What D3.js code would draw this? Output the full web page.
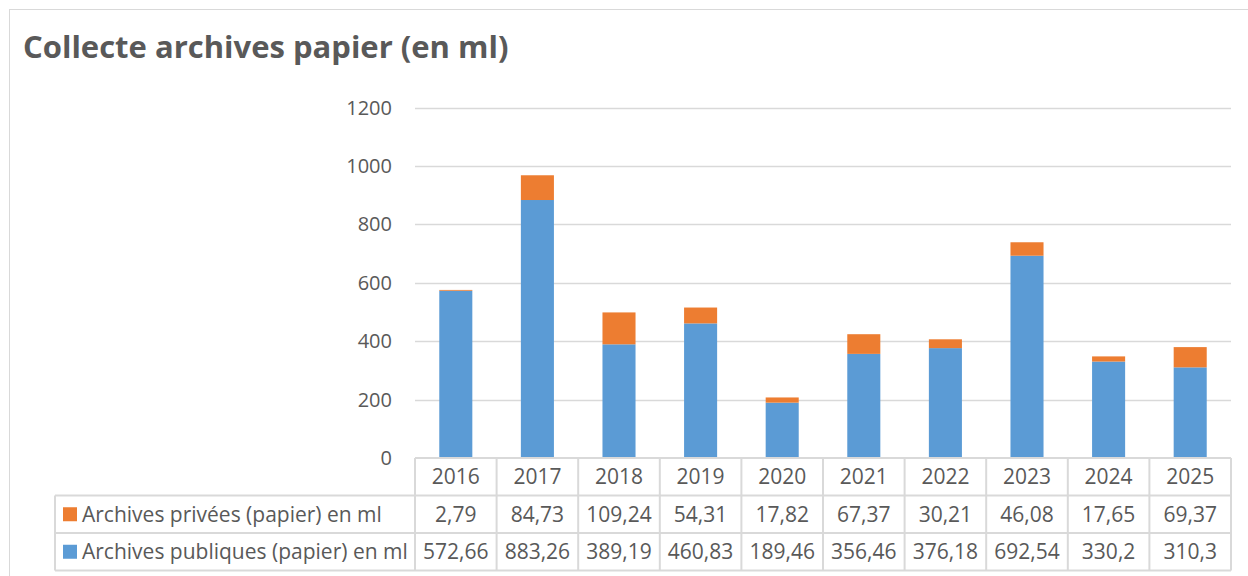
<!DOCTYPE html>
<html>
<head>
<meta charset="utf-8">
<script src="https://cdn.jsdelivr.net/npm/d3@7"></script>
<style>
  body { margin: 0; background: #fff; }
  text { font-family: "Open Sans", sans-serif; fill: #595959; }
</style>
</head>
<body>
<div id="chart"></div>
<script>
// Chart data
let years = ["2016", "2017", "2018", "2019", "2020", "2021", "2022", "2023", "2024", "2025"];
let publiques = [572.66, 883.26, 389.19, 460.83, 189.46, 356.46, 376.18, 692.54, 330.2, 310.3];
let privees = [2.79, 84.73, 109.24, 54.31, 17.82, 67.37, 30.21, 46.08, 17.65, 69.37];
let yTicks = [0, 200, 400, 600, 800, 1000, 1200];
let seriesNames = ["Archives privées (papier) en ml", "Archives publiques (papier) en ml"];

let width = 1248, height = 576;
let plot = {left: 415, right: 1231, top: 107.5, bottom: 458};
let rowH = 37.5;
let tableLeft = 55;
let grid = "#d9d9d9";
let colors = {pub: "#5b9bd5", priv: "#ed7d31"};
let fontSize = "21px";

let svg = d3.select("#chart")
    .append("svg")
    .attr("width", width)
    .attr("height", height);

// Outer chart border
svg.append("rect")
    .attr("x", 9.5).attr("y", 9.5)
    .attr("width", 1260).attr("height", 600)
    .attr("fill", "none")
    .attr("stroke", grid);

// Title
svg.append("text")
    .attr("x", 23).attr("y", 58)
    .style("font-size", "31px")
    .style("font-weight", "bold")
    .text("Collecte archives papier (en ml)");

let x = d3.scaleBand()
    .domain(years)
    .range([plot.left, plot.right])
    .padding(0);

let y = d3.scaleLinear()
    .domain([0, 1200])
    .range([plot.bottom, plot.top]);

// Horizontal gridlines
svg.append("g").selectAll("line")
    .data(yTicks.filter(d => d > 0))
    .enter().append("line")
    .attr("x1", plot.left).attr("x2", plot.right)
    .attr("y1", d => Math.round(y(d)) + 0.5)
    .attr("y2", d => Math.round(y(d)) + 0.5)
    .attr("stroke", grid)
    .attr("stroke-width", 1.5);

// Y axis labels
svg.append("g").selectAll("text")
    .data(yTicks)
    .enter().append("text")
    .attr("x", 392)
    .attr("y", d => y(d))
    .attr("dy", "0.35em")
    .style("text-anchor", "end")
    .style("font-size", "20px")
    .text(d => d);

// Stacked bars: publiques at the bottom, privées on top
let barW = x.bandwidth() * 0.405;
let stackData = years.map((yr, i) => ({year: yr, pub: publiques[i], priv: privees[i]}));
let stacked = d3.stack().keys(["pub", "priv"])(stackData);

svg.append("g").selectAll("g")
    .data(stacked)
    .enter().append("g")
    .attr("fill", d => colors[d.key])
    .selectAll("rect")
    .data(d => d)
    .enter().append("rect")
    .attr("x", d => x(d.data.year) + (x.bandwidth() - barW) / 2)
    .attr("y", d => y(d[1]))
    .attr("width", barW)
    .attr("height", d => y(d[0]) - y(d[1]));

// Data table under the plot
let table = svg.append("g");
let rowsY = [plot.bottom, plot.bottom + rowH, plot.bottom + 2 * rowH, plot.bottom + 3 * rowH];

// horizontal table lines
table.append("line")
    .attr("x1", plot.left).attr("x2", plot.right)
    .attr("y1", rowsY[0]).attr("y2", rowsY[0])
    .attr("stroke", grid).attr("stroke-width", 2);
rowsY.slice(1).forEach(function(ry) {
    table.append("line")
        .attr("x1", tableLeft).attr("x2", plot.right)
        .attr("y1", ry).attr("y2", ry)
        .attr("stroke", grid).attr("stroke-width", 2);
});

// vertical table lines
table.append("line")
    .attr("x1", tableLeft).attr("x2", tableLeft)
    .attr("y1", rowsY[1]).attr("y2", rowsY[3])
    .attr("stroke", grid).attr("stroke-width", 2);
table.selectAll("line.col")
    .data(years.concat(["end"]))
    .enter().append("line")
    .attr("class", "col")
    .attr("x1", d => d === "end" ? plot.right : x(d))
    .attr("x2", d => d === "end" ? plot.right : x(d))
    .attr("y1", rowsY[0]).attr("y2", rowsY[3])
    .attr("stroke", grid).attr("stroke-width", 2);

// year header row
table.selectAll("text.year")
    .data(years)
    .enter().append("text")
    .attr("class", "year")
    .attr("x", d => x(d) + x.bandwidth() / 2)
    .attr("y", rowsY[0] + rowH / 2)
    .attr("dy", "0.36em")
    .style("text-anchor", "middle")
    .style("font-size", fontSize)
    .text(d => d);

let fmt = v => String(v).replace(".", ",");
let rows = [
    {name: seriesNames[0], values: privees, color: colors.priv},
    {name: seriesNames[1], values: publiques, color: colors.pub}
];

rows.forEach(function(row, r) {
    let cy = rowsY[r + 1] + rowH / 2;
    // legend key
    table.append("rect")
        .attr("x", 63).attr("y", cy - 7)
        .attr("width", 14).attr("height", 14)
        .attr("fill", row.color);
    table.append("text")
        .attr("x", 82).attr("y", cy)
        .attr("dy", "0.36em")
        .style("font-size", fontSize)
        .text(row.name);
    table.append("g").selectAll("text")
        .data(row.values)
        .enter().append("text")
        .attr("x", (d, i) => x(years[i]) + x.bandwidth() / 2)
        .attr("y", cy)
        .attr("dy", "0.36em")
        .style("text-anchor", "middle")
        .style("font-size", fontSize)
        .text(d => fmt(d));
});
</script>
</body>
</html>
